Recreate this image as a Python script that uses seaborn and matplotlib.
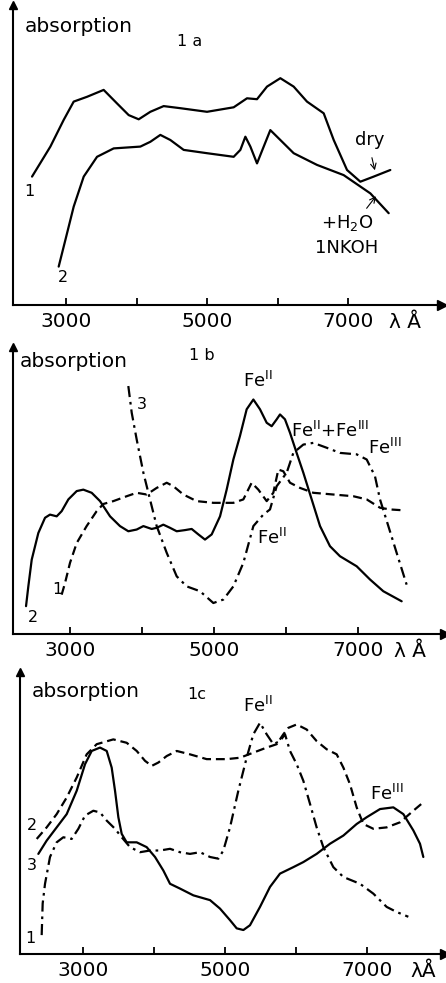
import pandas as pd
import seaborn as sns
import matplotlib.pyplot as plt

# ---- panel 1a ----
a1_wl = [2518, 2778, 2967, 3109, 3298, 3534, 3723, 3889, 4031, 4196, 4385, 4622, 5000,
         5378, 5567, 5709, 5851, 6040, 6229, 6418, 6655, 6797, 6986, 7175, 7364, 7600]
a1_abs = [42.8, 52.8, 61.7, 67.8, 69.4, 71.7, 67.2, 63.3, 61.9, 64.4, 66.3, 65.6, 64.4,
          65.9, 68.9, 68.6, 72.8, 75.6, 72.8, 67.8, 63.9, 55.0, 45.0, 41.1, 42.8, 45.0]
a2_wl = [2896, 2991, 3109, 3251, 3440, 3676, 4054, 4196, 4338, 4480, 4669, 5000, 5378,
         5473, 5544, 5615, 5709, 5804, 5898, 6040, 6229, 6560, 6938, 7317, 7577]
a2_abs = [12.8, 21.7, 32.8, 42.8, 49.4, 52.2, 52.8, 54.4, 56.7, 55.0, 51.7, 50.6, 49.4,
          51.7, 56.1, 52.8, 47.2, 52.8, 58.3, 55.0, 50.6, 46.7, 43.3, 37.2, 30.6]

# ---- panel 1b ----
b2_wl = [2389, 2421, 2468, 2560, 2653, 2722, 2815, 2884, 2977, 3093, 3185, 3301, 3417,
         3556, 3694, 3810, 3926, 4019, 4134, 4204, 4296, 4389, 4482, 4597, 4690, 4783,
         4875, 4968, 5084, 5176, 5269, 5361, 5454, 5547, 5639, 5732, 5801, 5871, 5917,
         5986, 6056, 6148, 6241, 6357, 6473, 6611, 6750, 6982, 7167, 7352, 7607]
b2_abs = [9.7, 16.6, 25.9, 35.2, 40.5, 41.6, 41.0, 42.8, 46.9, 49.8, 50.3, 49.2, 46.3,
          41.0, 37.6, 35.8, 36.4, 37.6, 36.6, 37.0, 38.1, 37.0, 35.8, 36.2, 36.6, 34.7,
          32.9, 34.7, 41.0, 50.3, 60.8, 69.0, 78.3, 81.7, 78.3, 73.6, 72.4, 74.8, 76.5,
          74.8, 70.1, 63.1, 56.2, 46.9, 37.6, 30.6, 27.1, 23.6, 19.0, 14.9, 11.4]
b1_wl = [2884, 2931, 3000, 3093, 3231, 3370, 3463, 3602, 3787, 3926, 4065, 4204, 4343,
         4435, 4574, 4759, 4991, 5269, 5408, 5523, 5616, 5732, 5824, 5894, 5963, 6056,
         6195, 6380, 6658, 6936, 7121, 7306, 7445, 7630]
b1_abs = [13.7, 17.8, 24.8, 31.7, 37.6, 42.8, 45.3, 46.3, 48.0, 49.2, 48.6, 50.9, 52.7,
          51.5, 48.6, 46.3, 45.7, 45.7, 46.9, 52.7, 50.3, 46.3, 49.2, 57.3, 56.7, 52.7,
          50.9, 49.2, 48.6, 48.0, 46.9, 44.0, 43.4, 43.1]
b3_wl = [3810, 3857, 3926, 4019, 4111, 4204, 4343, 4482, 4620, 4806, 4991, 5130, 5269,
         5408, 5547, 5685, 5778, 5871, 6010, 6102, 6241, 6380, 6565, 6750, 6982, 7121,
         7236, 7306, 7422, 7537, 7676]
b3_abs = [86.4, 77.1, 67.8, 56.2, 46.9, 37.6, 28.3, 20.1, 16.6, 14.9, 10.8, 12.0, 16.6,
          24.8, 37.6, 41.6, 43.4, 51.5, 56.2, 63.1, 66.0, 66.6, 64.9, 63.1, 62.6, 60.8,
          55.0, 46.9, 37.6, 28.3, 17.2]

# ---- panel 1c ----
c1_wl = [2423, 2437, 2470, 2540, 2634, 2728, 2845, 2939, 3033, 3150, 3244, 3338, 3455,
         3549, 3666, 3807, 3947, 4088, 4229, 4369, 4510, 4651, 4792, 4909, 4979, 5073,
         5190, 5307, 5401, 5495, 5589, 5683, 5776, 5847, 5917, 6011, 6105, 6199, 6292,
         6386, 6527, 6668, 6902, 7090, 7277, 7418, 7582]
c1_abs = [6.7, 17.9, 24.9, 34.4, 39.6, 41.4, 40.8, 44.4, 49.1, 50.8, 50.2, 47.3, 44.4,
          41.4, 37.9, 36.1, 36.7, 36.7, 37.3, 36.1, 35.5, 36.1, 34.4, 33.8, 36.7, 44.9,
          57.9, 69.6, 77.9, 82.0, 77.9, 74.4, 75.5, 77.9, 72.0, 67.3, 61.4, 53.2, 44.9,
          37.9, 30.8, 27.3, 24.9, 21.4, 16.7, 14.9, 13.2]
c2_wl = [2353, 2493, 2634, 2775, 2916, 3056, 3197, 3431, 3619, 3760, 3877, 3971, 4065,
         4182, 4323, 4510, 4745, 5026, 5214, 5401, 5589, 5730, 5823, 5894, 6011, 6152,
         6292, 6433, 6574, 6668, 6761, 6855, 6949, 7090, 7277, 7465, 7652, 7793]
c2_abs = [40.8, 44.9, 49.6, 55.5, 62.6, 70.8, 74.4, 76.1, 74.9, 72.0, 68.5, 66.7, 67.9,
          70.2, 72.0, 70.8, 69.1, 69.1, 69.6, 71.4, 73.2, 74.4, 77.9, 80.2, 81.4, 79.6,
          75.5, 72.6, 70.8, 66.1, 60.2, 52.0, 46.1, 44.4, 44.9, 46.7, 50.8, 53.8]
c3_wl = [2376, 2493, 2634, 2775, 2916, 3033, 3127, 3244, 3338, 3408, 3455, 3502, 3549,
         3619, 3760, 3900, 4018, 4135, 4229, 4369, 4557, 4792, 4932, 5073, 5167, 5261,
         5354, 5495, 5636, 5776, 5964, 6105, 6292, 6480, 6668, 6855, 6996, 7184, 7371,
         7512, 7653, 7746, 7793]
c3_abs = [35.5, 40.2, 44.9, 49.6, 57.9, 67.3, 72.0, 73.2, 72.0, 66.1, 57.9, 48.5, 42.6,
          39.6, 39.6, 37.9, 34.4, 29.6, 24.9, 23.2, 20.8, 19.1, 16.1, 12.0, 9.1, 8.5,
          10.2, 16.7, 23.8, 28.5, 30.8, 32.6, 35.5, 39.1, 42.0, 46.1, 48.5, 51.4, 52.0,
          49.6, 43.8, 39.1, 34.4]

tick_pos = [3000, 4000, 5000, 6000, 7000]
tick_lab = ['3000', '', '5000', '', '7000']

sns.set_style("white")
plt.rcParams['font.family'] = ['DejaVu Sans']
plt.rcParams['text.color'] = 'black'
plt.rcParams['xtick.color'] = 'black'
plt.rcParams['axes.labelcolor'] = 'black'

W, H = 446, 983
fig = plt.figure(figsize=(W / 100, H / 100), dpi=100)

DASH = (0, (4, 2.2))
DASHDOT = (0, (5, 2.2, 1.2, 2.2))
LW = 1.6


def make_axes(left, right, top, bottom, xlim):
    ax = fig.add_axes([left / W, 1 - bottom / H, (right - left) / W, (bottom - top) / H])
    ax.set_xlim(*xlim)
    ax.set_ylim(0, 100)
    for s in ['top', 'right']:
        ax.spines[s].set_visible(False)
    for s in ['left', 'bottom']:
        ax.spines[s].set_linewidth(1.5)
        ax.spines[s].set_color('black')
    ax.set_yticks([])
    ax.set_xticks(tick_pos)
    ax.set_xticklabels(tick_lab)
    ax.tick_params(axis='x', direction='in', length=5, width=1.3, pad=5,
                   labelsize=14.5, bottom=True, colors='black')
    ax.plot(1, 0, '>', color='k', ms=7, transform=ax.transAxes, clip_on=False)
    ax.plot(0, 1, '^', color='k', ms=6, transform=ax.transAxes, clip_on=False)
    return ax


def curve(ax, wl, ab, ls):
    df = pd.DataFrame({'wl': wl, 'abs': ab})
    sns.lineplot(data=df, x='wl', y='abs', ax=ax, color='black', lw=LW, linestyle=ls,
                 sort=False, estimator=None, errorbar=None)
    ax.set_xlabel('')
    ax.set_ylabel('')


# panel a
ax = make_axes(13, 442, 5, 305, (2248, 8333))
curve(ax, a1_wl, a1_abs, '-')
curve(ax, a2_wl, a2_abs, '-')
ax.text(2418, 92.7, 'absorption', fontsize=14.5, va='center', ha='left')
ax.text(4759, 87.7, '1 a', fontsize=11.5, va='center', ha='center')
ax.text(2475, 37.7, '1', fontsize=11.5, va='center', ha='center')
ax.text(2957, 9, '2', fontsize=11.5, va='center', ha='center')
ax.text(7312, 55, 'dry', fontsize=13, va='center', ha='center')
ax.annotate('', xy=(7390, 44), xytext=(7330, 50),
            arrowprops=dict(arrowstyle='->', lw=0.8, color='k'))
ax.text(6986, 27.3, '+H$_2$O', fontsize=13, va='center', ha='center')
ax.text(6986, 19, '1NKOH', fontsize=13, va='center', ha='center')
ax.annotate('', xy=(7420, 37), xytext=(7240, 31.5),
            arrowprops=dict(arrowstyle='->', lw=0.8, color='k'))
ax.text(7810, -5.7, 'λ Å', fontsize=14.5, va='center', ha='center', clip_on=False)

# panel b
ax = make_axes(13, 445, 347, 634, (2208, 8209))
curve(ax, b2_wl, b2_abs, '-')
curve(ax, b1_wl, b1_abs, DASH)
curve(ax, b3_wl, b3_abs, DASHDOT)
ax.text(2306, 95.1, 'absorption', fontsize=14.5, va='center', ha='left')
ax.text(4829, 96.9, '1 b', fontsize=11.5, va='center', ha='center')
ax.text(3995, 80, '3', fontsize=11.5, va='center', ha='center')
ax.text(2491, 5.6, '2', fontsize=11.5, va='center', ha='center')
ax.text(2824, 15.5, '1', fontsize=11.5, va='center', ha='center')
ax.text(5616, 88.1, r'Fe$^{\rm II}$', fontsize=13, va='center', ha='center')
ax.text(6611, 70.7, r'Fe$^{\rm II}$+Fe$^{\rm III}$', fontsize=13, va='center', ha='center')
ax.text(7375, 64.9, r'Fe$^{\rm III}$', fontsize=13, va='center', ha='center')
ax.text(5801, 33.5, r'Fe$^{\rm II}$', fontsize=13, va='center', ha='center')
ax.text(7723, -6.2, 'λ Å', fontsize=14.5, va='center', ha='center', clip_on=False)

# panel c
ax = make_axes(20, 445, 672, 954, (2118, 8098))
curve(ax, c3_wl, c3_abs, '-')
curve(ax, c2_wl, c2_abs, DASH)
curve(ax, c1_wl, c1_abs, DASHDOT)
ax.text(2282, 93.2, 'absorption', fontsize=14.5, va='center', ha='left')
ax.text(4604, 92, '1c', fontsize=11.5, va='center', ha='center')
ax.text(5472, 87.9, r'Fe$^{\rm II}$', fontsize=13, va='center', ha='center')
ax.text(7277, 56.7, r'Fe$^{\rm III}$', fontsize=13, va='center', ha='center')
ax.text(2282, 45.5, '2', fontsize=11.5, va='center', ha='center')
ax.text(2282, 31.4, '3', fontsize=11.5, va='center', ha='center')
ax.text(2268, 5.5, '1', fontsize=11.5, va='center', ha='center')
ax.text(7793, -6.2, 'λÅ', fontsize=14.5, va='center', ha='center', clip_on=False)

fig.savefig('out.png', dpi=100)
